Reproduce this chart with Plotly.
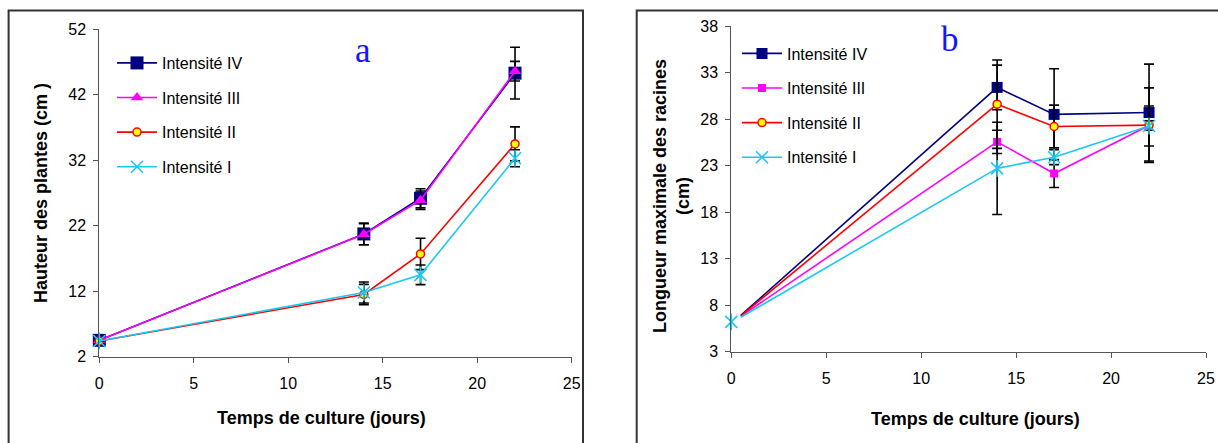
import plotly.graph_objects as go

W, H = 1218, 443

# ---------------- data: panel a (plant height, cm) ----------------
days_a = [0, 14, 17, 22]
IV_a = [4.5, 20.75, 26.2, 45.3]
IV_a_err = [0, 1.65, 1.45, 3.95]
III_a = [4.5, 20.7, 25.9, 45.6]
III_a_err = [0, 1.6, 1.4, 1.5]
II_a = [4.4, 11.5, 17.7, 34.5]
II_a_err = [0, 1.55, 2.4, 2.6]
I_a = [4.4, 11.8, 14.5, 32.3]
I_a_err = [0, 1.6, 1.5, 1.3]

# ---------------- data: panel b (max root length, cm) ----------------
days_b = [0.5, 14, 17, 22]
IV_b = [6.9, 31.4, 28.5, 28.7]
IV_b_err = [0, 2.4, 4.9, 5.2]
III_b = [6.8, 25.55, 22.15, 27.3]
III_b_err = [0, 1.25, 1.5, 0.5]
II_b = [6.85, 29.6, 27.2, 27.35]
II_b_err = [0, 4.75, 2.3, 4.0]
I_b = [6.7, 22.7, 23.9, 27.25]
I_b_err = [0, 4.95, 0.8, 2.15]
I_b_day0 = [0]
I_b_val0 = [6.2]

names = ["Intensité IV", "Intensité III", "Intensité II", "Intensité I"]
xticks = [0, 5, 10, 15, 20, 25]
yticks_a = [2, 12, 22, 32, 42, 52]
yticks_b = [3, 8, 13, 18, 23, 28, 33, 38]

NAVY = "#000080"
MAG = "#FF00FF"
RED = "#FF0000"
CYAN = "#1CC8F2"
YEL = "#FFFF00"

FONT = "Liberation Sans, Arial, sans-serif"


def px(xp):
    return xp / W


def py(yp):
    return 1 - yp / H


def err(arr):
    return dict(type="data", array=arr, visible=True, color="black",
                thickness=1.6, width=5)


fig = go.Figure()

# ---------- panel a ----------
sty = [
    (IV_a, IV_a_err, NAVY, dict(symbol="square", size=13, color=NAVY)),
    (III_a, III_a_err, MAG, dict(symbol="triangle-up", size=11, color=MAG)),
    (II_a, II_a_err, RED, dict(symbol="circle", size=8, color=YEL,
                               line=dict(color=RED, width=1.5))),
    (I_a, I_a_err, CYAN, dict(symbol="x-thin-open", size=12, color=CYAN,
                              line=dict(color=CYAN, width=1.6))),
]
for i, (vals, e, col, mk) in enumerate(sty):
    fig.add_trace(go.Scatter(
        x=days_a, y=vals, name=names[i], mode="lines+markers",
        line=dict(color=col, width=1.6), marker=mk, error_y=err(e),
        xaxis="x", yaxis="y", legend="legend", legendgroup="a%d" % i,
        cliponaxis=False))
# vertical stroke of the asterisk marker
fig.add_trace(go.Scatter(
    x=days_a, y=I_a, mode="markers", showlegend=False,
    marker=dict(symbol="line-ns-open", size=12, color=CYAN,
                line=dict(color=CYAN, width=1.6)),
    xaxis="x", yaxis="y", cliponaxis=False))

# ---------- panel b ----------
sty_b = [
    (IV_b, IV_b_err, NAVY, dict(symbol="square", size=11, color=NAVY)),
    (III_b, III_b_err, MAG, dict(symbol="square", size=8, color=MAG)),
    (II_b, II_b_err, RED, dict(symbol="circle", size=8, color=YEL,
                               line=dict(color=RED, width=1.5))),
    (I_b, I_b_err, CYAN, dict(symbol="x-thin-open", size=12, color=CYAN,
                              line=dict(color=CYAN, width=1.6))),
]
for i, (vals, e, col, mk) in enumerate(sty_b):
    # lead-in segment from the first (unmarked) point
    fig.add_trace(go.Scatter(
        x=days_b[:2], y=vals[:2], mode="lines", showlegend=False,
        line=dict(color=col, width=1.6), xaxis="x2", yaxis="y2",
        hoverinfo="skip", cliponaxis=False))
for i, (vals, e, col, mk) in enumerate(sty_b):
    fig.add_trace(go.Scatter(
        x=days_b[1:], y=vals[1:], name=names[i], mode="lines+markers",
        line=dict(color=col, width=1.6), marker=mk, error_y=err(e[1:]),
        xaxis="x2", yaxis="y2", legend="legend2", legendgroup="b%d" % i,
        cliponaxis=False))
fig.add_trace(go.Scatter(
    x=I_b_day0, y=I_b_val0, mode="markers", showlegend=False,
    marker=dict(symbol="x-thin-open", size=12, color=CYAN,
                line=dict(color=CYAN, width=1.6)),
    xaxis="x2", yaxis="y2", cliponaxis=False))
fig.add_trace(go.Scatter(
    x=I_b_day0 + days_b[1:], y=I_b_val0 + I_b[1:], mode="markers",
    showlegend=False,
    marker=dict(symbol="line-ns-open", size=12, color=CYAN,
                line=dict(color=CYAN, width=1.6)),
    xaxis="x2", yaxis="y2", cliponaxis=False))


axis_common = dict(showline=True, linecolor="#555555", linewidth=1,
                   ticks="outside", ticklen=5, tickcolor="#555555",
                   tickwidth=1, showgrid=False, zeroline=False,
                   automargin=False,
                   tickfont=dict(family=FONT, size=16, color="black"))
xax = dict(axis_common, ticklabelstandoff=7)
yax = dict(axis_common, ticklabelstandoff=4)

fig.update_layout(
    template="none",
    width=W, height=H, margin=dict(l=0, r=0, t=0, b=0, autoexpand=False),
    paper_bgcolor="white", plot_bgcolor="white",
    font=dict(family=FONT, color="black"),
    xaxis=dict(domain=[px(99.3), px(571.7)], range=[0, 25],
               tickvals=xticks, anchor="y", **xax),
    yaxis=dict(domain=[py(356.7), py(29.3)], range=[2, 52],
               tickvals=yticks_a, anchor="x", **yax),
    xaxis2=dict(domain=[px(731.3), px(1206)], range=[0, 25],
                tickvals=xticks, anchor="y2", **xax),
    yaxis2=dict(domain=[py(351.7), py(26)], range=[3, 38],
                tickvals=yticks_b, anchor="x2", **yax),
    legend=dict(x=px(112), y=py(46), xanchor="left", yanchor="top",
                bgcolor="rgba(0,0,0,0)", itemwidth=40, tracegroupgap=10.8,
                font=dict(family=FONT, size=16, color="black")),
    legend2=dict(x=px(737), y=py(36.5), xanchor="left", yanchor="top",
                 bgcolor="rgba(0,0,0,0)", itemwidth=40, tracegroupgap=10.8,
                 font=dict(family=FONT, size=16, color="black")),
    showlegend=True,
)

fig.update_layout(shapes=[
    dict(type="rect", xref="paper", yref="paper", x0=px(8.6), x1=px(583),
         y0=-0.2, y1=py(10.5), line=dict(color="#333333", width=2)),
    dict(type="rect", xref="paper", yref="paper", x0=px(636.7), x1=1.1,
         y0=-0.2, y1=py(10.5), line=dict(color="#333333", width=2)),
])

title_font = dict(family=FONT, size=18, color="black")
serif = dict(family="Liberation Serif, Times New Roman, serif",
             size=35, color="#1414FF")
fig.update_layout(annotations=[
    dict(text="<b>Hauteur des plantes (cm )</b>", x=px(41), y=py(193),
         xref="paper", yref="paper", textangle=-90, showarrow=False,
         xanchor="center", yanchor="middle", font=title_font),
    dict(text="<b>Temps de culture (jours)</b>", x=px(321), y=py(418),
         xref="paper", yref="paper", showarrow=False,
         xanchor="center", yanchor="middle", font=title_font),
    dict(text="<b>Longueur maximale des racines<br>(cm)</b>", x=px(671),
         y=py(196), xref="paper", yref="paper", textangle=-90,
         showarrow=False, xanchor="center", yanchor="middle",
         font=title_font),
    dict(text="<b>Temps de culture (jours)</b>", x=px(975), y=py(419),
         xref="paper", yref="paper", showarrow=False,
         xanchor="center", yanchor="middle", font=title_font),
    dict(text="a", x=px(363), y=py(50.5), xref="paper", yref="paper",
         showarrow=False, xanchor="center", yanchor="middle", font=serif),
    dict(text="b", x=px(950), y=py(39.5), xref="paper", yref="paper",
         showarrow=False, xanchor="center", yanchor="middle", font=serif),
])

fig.write_html(
    "out.html",
    config={"displayModeBar": False},
    post_script=("document.body.style.margin='0';"
                 "document.body.style.overflow='hidden';"),
)
